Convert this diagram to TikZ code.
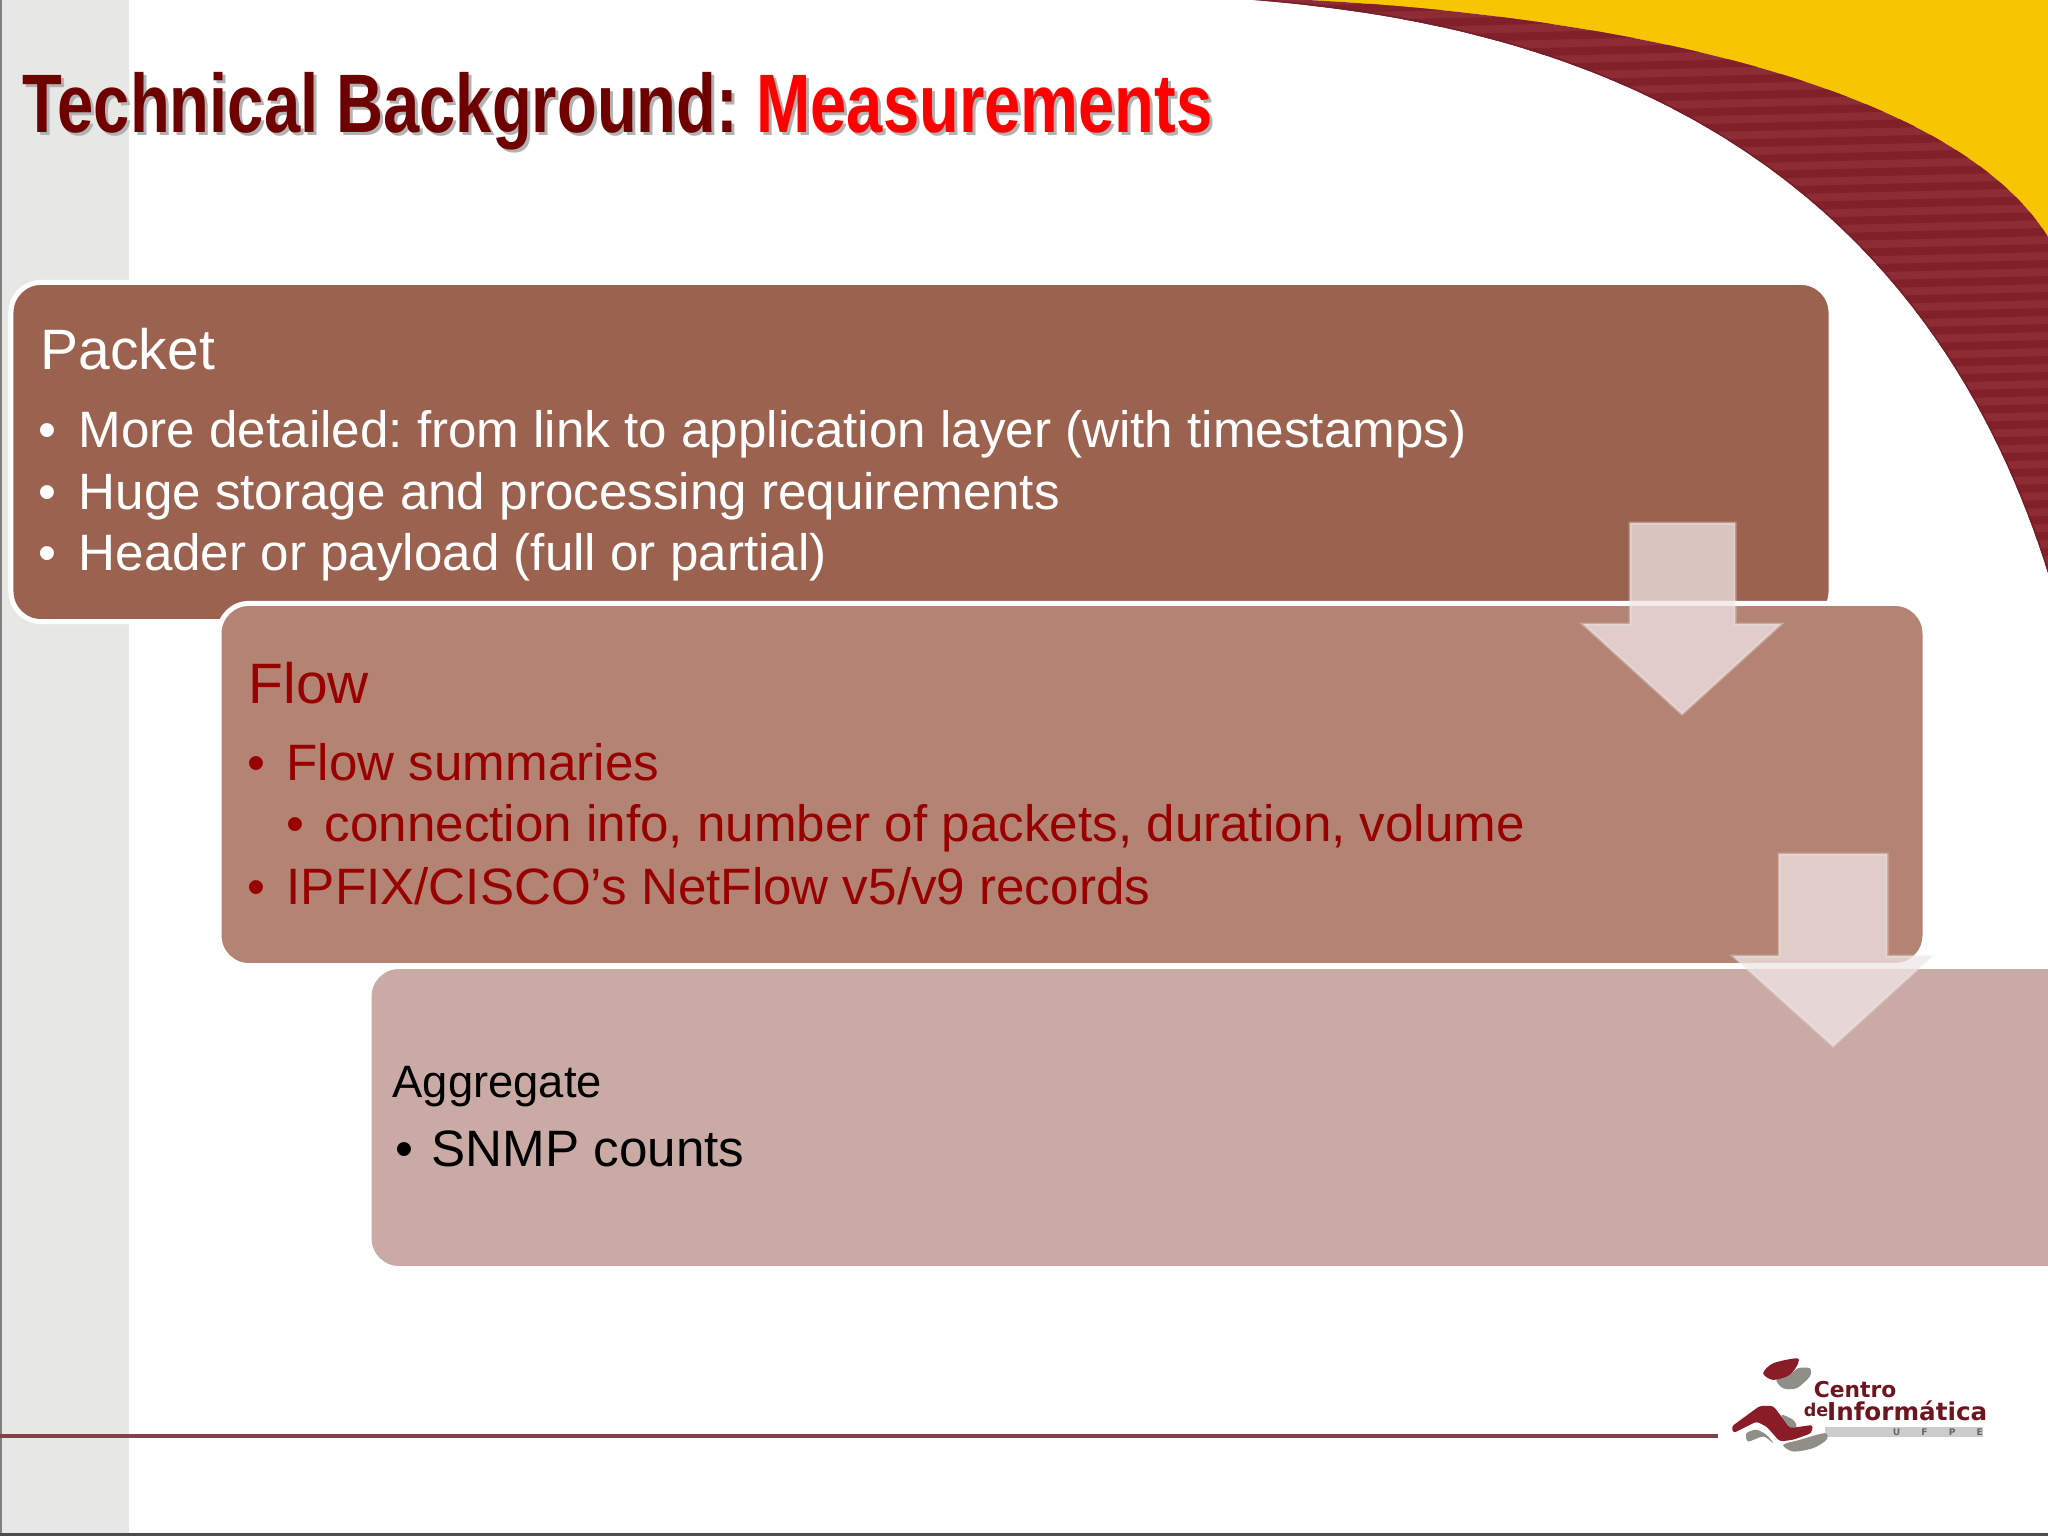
\documentclass[tikz,border=0pt]{standalone}
\usepackage{fontspec}
\setmainfont{Liberation Sans}
\newfontfamily\titlefont{Liberation Sans}[FakeStretch=0.785]
\newfontfamily\logofont{DejaVu Sans}
\frenchspacing
\definecolor{sidegray}{HTML}{E7E8E6}
\definecolor{swooshred}{HTML}{8E2C36}
\definecolor{swooshdark}{HTML}{82202A}
\definecolor{swooshedge}{HTML}{74202A}
\definecolor{swooshyellow}{HTML}{F8C600}
\definecolor{packetfill}{HTML}{9C6250}
\definecolor{flowfill}{HTML}{B38473}
\definecolor{aggregatefill}{HTML}{C9AAA4}
\definecolor{arrowfill}{HTML}{F0E6E6}
\definecolor{arrowedge}{HTML}{F4ECEC}
\definecolor{titlered}{HTML}{6E0000}
\definecolor{flowred}{HTML}{990000}
\definecolor{logored}{HTML}{8A1C28}
\definecolor{logogray}{HTML}{8F8F88}
\tikzset{
	levelbox/.style={draw=white,line width=0.05cm,rounded corners=0.3cm,inner sep=0pt},
	headline/.style={anchor=base west,inner sep=0pt,font=\fontsize{16.2}{19}\selectfont},
	bodyline/.style={anchor=base west,inner sep=0pt,font=\fontsize{14.55}{17}\selectfont},
	dotline/.style={anchor=base,inner sep=0pt,font=\fontsize{14.55}{17}\selectfont},
	titleline/.style={anchor=base west,inner sep=0pt,font=\titlefont\bfseries\fontsize{23.6}{28}\selectfont},
	downarrow/.style={fill=arrowfill,fill opacity=0.75,draw=arrowedge,draw opacity=0.35,line width=0.03cm},
}
\begin{document}
\begin{tikzpicture}[x=0.01cm,y=-0.01cm]
	\useasboundingbox (0,0) rectangle (2048,1536);
	\fill[white] (0,0) rectangle (2048,1536);

	%side strip and frame
	\fill[sidegray] (0,0) rectangle (129,1536);
	\fill[gray] (0,0) rectangle (2,1536);
	\fill[black!70] (0,1533) rectangle (2048,1536);

	%swoosh
	\fill[swooshyellow] (1308,0) .. controls (1600,15) and (1950,80) .. (2048,237) -- (2048,0) -- cycle;
	\begin{scope}
		\clip (1254,0) .. controls (1500,20) and (1900,100) .. (2048,573) -- (2048,237)
			.. controls (1950,80) and (1600,15) .. (1308,0) -- cycle;
		\fill[swooshred] (1200,0) rectangle (2048,600);
		\foreach \y in {0,16,...,640}
			\fill[swooshdark] (1200,\y+8) -- (2048,\y-12) -- (2048,\y-4) -- (1200,\y+16) -- cycle;
		\draw[swooshedge,line width=0.03cm] (1254,0) .. controls (1500,20) and (1900,100) .. (2048,573);
	\end{scope}

	%title
	\node[titleline,text=gray!60] at (25,135) {Technical Background: Measurements};
	\node[titleline,text=titlered] (title) at (22,132) {Technical Background: \textcolor{red}{Measurements}};

	%boxes
	\node[levelbox,fill=packetfill,minimum width=18.19cm,minimum height=3.39cm] (packet) at (921,452) {};
	\node[levelbox,fill=flowfill,minimum width=17.05cm,minimum height=3.62cm] (flow) at (1072,784.5) {};
	\node[levelbox,fill=aggregatefill,minimum width=17.33cm,minimum height=3.02cm] (aggregate) at (1236,1117.5) {};

	%packet text
	\node[headline,text=white] (packethead) at (40,369) {Packet};
	\node[dotline,text=white] at (47,447) {•};
	\node[bodyline,text=white] (packetone) at (78,447) {More detailed: from link to application layer (with timestamps)};
	\node[dotline,text=white] at (47,509) {•};
	\node[bodyline,text=white] (packettwo) at (78,509) {Huge storage and processing requirements};
	\node[dotline,text=white] at (47,570) {•};
	\node[bodyline,text=white] (packetthree) at (78,570) {Header or payload (full or partial)};

	%flow text
	\node[headline,text=flowred] (flowhead) at (248,703) {Flow};
	\node[dotline,text=flowred] at (256,780) {•};
	\node[bodyline,text=flowred] (flowone) at (286,780) {Flow summaries};
	\node[dotline,text=flowred] at (295,841) {•};
	\node[bodyline,text=flowred] (flowtwo) at (324,841) {connection info, number of packets, duration, volume};
	\node[dotline,text=flowred] at (256,904) {•};
	\node[bodyline,text=flowred] (flowthree) at (286,904) {IPFIX/CISCO’s NetFlow v5/v9 records};

	%aggregate text
	\node[anchor=base west,inner sep=0pt,font=\fontsize{12.9}{16}\selectfont] (aggregatehead) at (392,1097) {Aggregate};
	\node[dotline] at (404,1166) {•};
	\node[bodyline] (aggregateone) at (431,1166) {SNMP counts};

	%arrows
	\path[downarrow] (1630,523) -- (1735,523) -- (1735,624) -- (1781,624) -- (1682,714) -- (1583,624) -- (1630,624) -- cycle;
	\path[downarrow] (1779,854) -- (1887,854) -- (1887,956) -- (1932,956) -- (1833,1046) -- (1733,956) -- (1779,956) -- cycle;

	%bottom rule
	\fill[logored!70!black!80] (0,1434) rectangle (1718,1438);

	%logo
	\begin{scope}[shift={(1650,1320)},x=0.00333cm,y=-0.00333cm]
		\fill[black!20] (525,322) rectangle (1000,352);
		\fill[logogray] plot[smooth cycle] coordinates {(380,180) (420,165) (445,145) (480,145) (480,170) (440,205) (400,205)};
		\fill[logored] plot[smooth cycle] coordinates {(340,160) (370,130) (440,115) (445,130) (420,165) (370,180)};
		\fill[logogray] plot[smooth cycle] coordinates {(395,285) (430,300) (440,320) (420,322)};
		\fill[logogray] plot[smooth cycle] coordinates {(290,340) (320,330) (350,345) (370,370) (340,350) (295,365)};
		\fill[logogray] plot[smooth cycle] coordinates {(400,375) (450,360) (525,340) (530,360) (490,385) (430,395)};
		\fill[logored,rounded corners=0.03cm] (245,320) -- (330,258) -- (370,258) -- (395,290) -- (420,325) -- (490,315) -- (485,340) -- (430,360) -- (390,365) -- (350,320) -- (320,305) -- (250,340) -- cycle;
		\node[anchor=base west,inner sep=0pt,text=logored!80!black,font=\logofont\bfseries\fontsize{6.2}{7}\selectfont] (centro) at (490,232) {Centro};
		\node[anchor=base west,inner sep=0pt,text=logored!80!black,font=\logofont\bfseries\fontsize{5}{6}\selectfont] (de) at (460,290) {de};
		\node[anchor=base west,inner sep=0pt,text=logored!80!black,font=\logofont\bfseries\fontsize{7}{8}\selectfont] (informatica) at (530,303) {Informática};
		\node[inner sep=0pt,text=black!60,font=\logofont\bfseries\fontsize{2.6}{3}\selectfont] (ufpe) at (865,338) {U\hspace{6pt}F\hspace{6pt}P\hspace{6pt}E};
	\end{scope}
\end{tikzpicture}
\end{document}
